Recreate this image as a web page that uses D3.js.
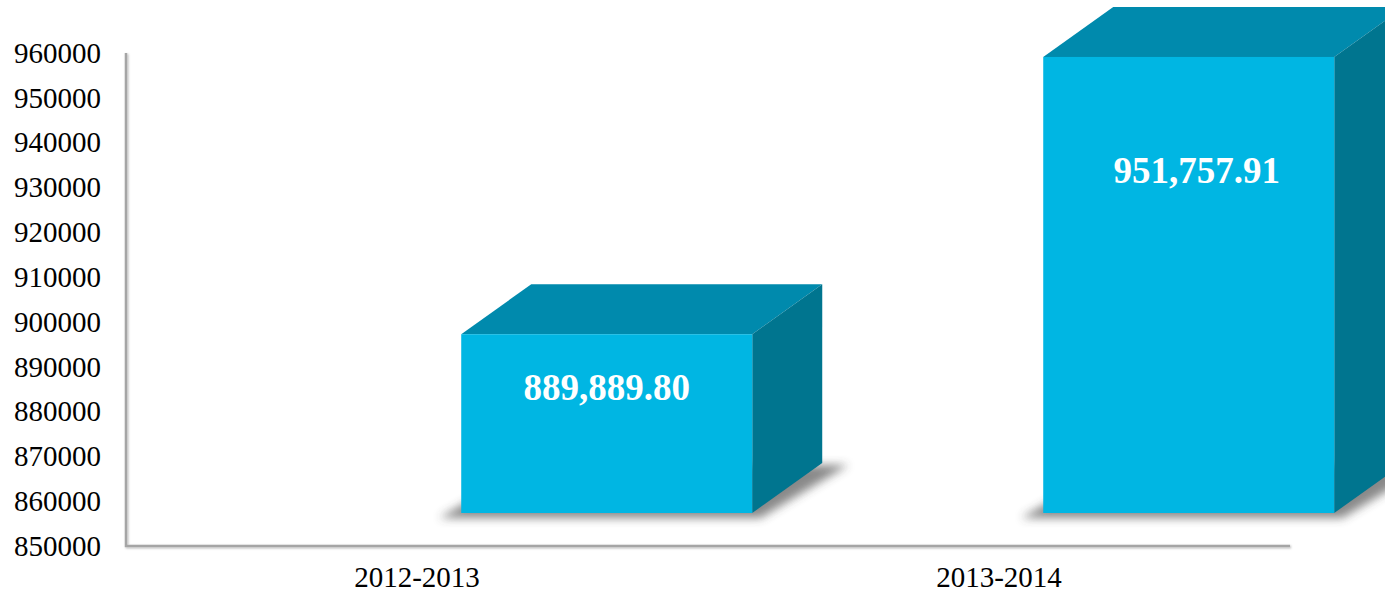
<!DOCTYPE html>
<html><head><meta charset="utf-8">
<script src="https://cdn.jsdelivr.net/npm/d3@7"></script>
<style>
html,body{margin:0;padding:0;background:#fff;}
svg{display:block;}
</style></head>
<body>
<svg id="chart" width="1385" height="592"></svg>
<script>
const categories = ["2012-2013", "2013-2014"];
const values = [889889.80, 951757.91];
const valueLabels = ["889,889.80", "951,757.91"];
const yTicks = [850000, 860000, 870000, 880000, 890000, 900000, 910000, 920000, 930000, 940000, 950000, 960000];

const svg = d3.select("#chart");
const plotL = 126, plotR = 1290, plotT = 53, plotB = 546;
const depthX = 70, depthY = -50, floorLift = 33;

const x = d3.scaleBand().domain(categories).range([plotL, plotR]).padding(0);
const y = d3.scaleLinear().domain([850000, 960000]).range([plotB, plotT]);
const yFront = v => y(v) - floorLift;

const defs = svg.append("defs");
const blur = defs.append("filter").attr("id","shadowBlur").attr("x","-20%").attr("y","-50%").attr("width","140%").attr("height","200%");
blur.append("feGaussianBlur").attr("stdDeviation", 5);
const lineSh = defs.append("filter").attr("id","lineShadow").attr("x","-5%").attr("y","-5%").attr("width","110%").attr("height","110%");
lineSh.append("feDropShadow").attr("dx",1).attr("dy",1).attr("stdDeviation",0.8).attr("flood-color","#000").attr("flood-opacity",0.3);

// Axes lines
svg.append("path")
  .attr("d", `M${plotL},${plotT} V${plotB} H${plotR}`)
  .attr("fill","none").attr("stroke","#a5a5a5").attr("stroke-width",2.5)
  .attr("filter","url(#lineShadow)");

// Y tick labels
const yAxis = d3.axisLeft(y).tickValues(yTicks).tickSize(0).tickPadding(25).tickFormat(d3.format("d"));
const gy = svg.append("g").attr("transform", `translate(${plotL},0)`).call(yAxis);
gy.select(".domain").remove();
gy.selectAll("text").attr("font-family","'Liberation Serif', serif").attr("font-size",29).attr("fill","#000");

// X labels
const xAxis = d3.axisBottom(x).tickSize(0).tickPadding(20);
const gx = svg.append("g").attr("transform", `translate(0,${plotB})`).call(xAxis);
gx.select(".domain").remove();
gx.selectAll("text").attr("font-family","'Liberation Serif', serif").attr("font-size",29).attr("fill","#000");

// Bars
const bw = x.bandwidth();
const bars = svg.append("g").selectAll("g").data(values).join("g");
bars.each(function(v, i){
  const g = d3.select(this);
  const left = x(categories[i]) + bw/2 + bw*0.076;
  const right = left + bw*0.5;
  const top = yFront(v);
  const bottom = yFront(850000);
  // shadow
  g.append("polygon")
    .attr("points", [[left-22,bottom+5],[right+8,bottom+5],[right+depthX+26,bottom+depthY+2],[left+depthX,bottom+depthY+2]].map(p=>p.join(",")).join(" "))
    .attr("fill","#3a3a3a").attr("opacity",0.6).attr("filter","url(#shadowBlur)");
  // top face
  g.append("polygon")
    .attr("points", [[left,top],[right,top],[right+depthX,top+depthY],[left+depthX,top+depthY]].map(p=>p.join(",")).join(" "))
    .attr("fill","#008aad");
  // side face
  g.append("polygon")
    .attr("points", [[right,top],[right+depthX,top+depthY],[right+depthX,bottom+depthY],[right,bottom]].map(p=>p.join(",")).join(" "))
    .attr("fill","#00758f");
  // front face
  g.append("rect").attr("x",left).attr("y",top).attr("width",right-left).attr("height",bottom-top)
    .attr("fill","#00b6e3");
  // label
  const h = bottom - top;
  g.append("text")
    .attr("x",(left+right)/2 + (i ? 8 : 0)).attr("y", top + 0.219*h + 14)
    .attr("text-anchor","middle").attr("dominant-baseline","central")
    .attr("font-family","'Liberation Serif', serif").attr("font-weight","bold").attr("font-size",37)
    .attr("fill","#fff").text(valueLabels[i]);
});
</script>
</body></html>
